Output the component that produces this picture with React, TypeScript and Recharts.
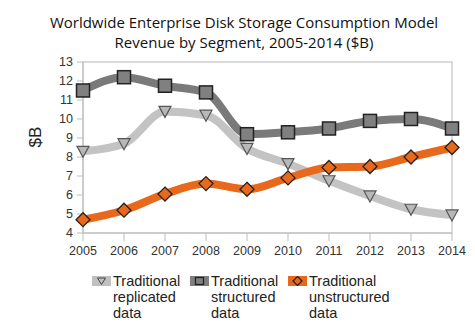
import { LineChart, Line, XAxis, YAxis, ReferenceArea, Label } from 'recharts';

const years = ['2005', '2006', '2007', '2008', '2009', '2010', '2011', '2012', '2013', '2014'];
const replicated = [8.3, 8.7, 10.4, 10.2, 8.45, 7.65, 6.75, 5.95, 5.25, 4.95];
const structured = [11.5, 12.2, 11.75, 11.4, 9.2, 9.3, 9.5, 9.9, 10.0, 9.5];
const unstructured = [4.7, 5.2, 6.05, 6.6, 6.3, 6.9, 7.45, 7.5, 8.0, 8.5];
const yTicks = [4, 5, 6, 7, 8, 9, 10, 11, 12, 13];

const legendItems = [
  { lines: ['Traditional', 'replicated', 'data'], color: '#c0c0c0', marker: 'triangle' },
  { lines: ['Traditional', 'structured', 'data'], color: '#7f7f7f', marker: 'square' },
  { lines: ['Traditional', 'unstructured', 'data'], color: '#e8691c', marker: 'diamond' },
];

const data = years.map((year, i) => ({
  year,
  replicated: replicated[i],
  structured: structured[i],
  unstructured: unstructured[i],
}));

const font = '"Liberation Sans", Arial, sans-serif';

function TriangleDot(props: any) {
  const { cx, cy } = props;
  if (cx == null || cy == null) return null;
  return (
    <polygon
      points={`${cx - 6},${cy - 5} ${cx + 6},${cy - 5} ${cx},${cy + 6}`}
      fill="#b8b8b8"
      stroke="#555"
      strokeWidth={1.2}
    />
  );
}

function SquareDot(props: any) {
  const { cx, cy } = props;
  if (cx == null || cy == null) return null;
  return <rect x={cx - 6.5} y={cy - 6.5} width={13} height={13} fill="#808080" stroke="#222" strokeWidth={1.5} />;
}

function DiamondDot(props: any) {
  const { cx, cy } = props;
  if (cx == null || cy == null) return null;
  return (
    <polygon
      points={`${cx},${cy - 7} ${cx + 7},${cy} ${cx},${cy + 7} ${cx - 7},${cy}`}
      fill="#e8691c"
      stroke="#222"
      strokeWidth={1.3}
    />
  );
}

function Swatch({ color, marker }: { color: string; marker: string }) {
  return (
    <svg width={19} height={10} style={{ display: 'block' }}>
      <rect x={0} y={0} width={19} height={10} fill={color} />
      {marker === 'triangle' && <polygon points="5.5,2 13.5,2 9.5,8.5" fill="none" stroke="#444" strokeWidth={1} />}
      {marker === 'square' && <rect x={5.5} y={1.5} width={8} height={7} fill="#808080" stroke="#222" strokeWidth={1.3} />}
      {marker === 'diamond' && <polygon points="9.5,0.5 14,5 9.5,9.5 5,5" fill="none" stroke="#222" strokeWidth={1.2} />}
    </svg>
  );
}

export default function App() {
  return (
    <div style={{ position: 'absolute', left: 0, top: 0, width: 475, height: 326, background: '#fff' }}>
      <div
        style={{
          position: 'absolute',
          top: 12,
          left: 0,
          width: 475,
          paddingLeft: 13,
          boxSizing: 'border-box',
          textAlign: 'center',
          fontFamily: '"Open Sans", sans-serif',
          fontSize: 15,
          lineHeight: '20px',
          color: '#111',
        }}
      >
        Worldwide Enterprise Disk Storage Consumption Model
        <br />
        Revenue by Segment, 2005-2014 ($B)
      </div>
      <LineChart width={475} height={326} data={data} margin={{ top: 62, right: 23, left: 45, bottom: 63 }}>
        <ReferenceArea x1="2005" x2="2014" y1={4} y2={13} fill="none" stroke="#d0d0d0" strokeWidth={1.5} ifOverflow="visible" />
        <XAxis
          dataKey="year"
          height={30}
          stroke="#bdbdbd"
          tickSize={8}
          tickMargin={5}
          tick={{ fill: '#333', fontSize: 12.5, fontFamily: font }}
          interval={0}
        />
        <YAxis
          width={38}
          domain={[4, 13]}
          ticks={yTicks}
          stroke="#bdbdbd"
          tickSize={6}
          tickMargin={4}
          tick={{ fill: '#333', fontSize: 12.5, fontFamily: font }}
          interval={0}
        >
          <Label value="$B" angle={-90} position="insideLeft" offset={-10} style={{ fill: '#222', fontSize: 17, fontFamily: font }} />
        </YAxis>
        <Line type="monotone" dataKey="replicated" stroke="#c3c3c3" strokeWidth={8} dot={<TriangleDot />} activeDot={false} isAnimationActive={false} />
        <Line type="monotone" dataKey="structured" stroke="#7a7a7a" strokeWidth={8} dot={<SquareDot />} activeDot={false} isAnimationActive={false} />
        <Line type="monotone" dataKey="unstructured" stroke="#e8691c" strokeWidth={8} dot={<DiamondDot />} activeDot={false} isAnimationActive={false} />
      </LineChart>
      {legendItems.map((item, i) => (
        <div
          key={item.lines[1]}
          style={{
            position: 'absolute',
            left: [92, 190, 288][i],
            top: 273,
            display: 'flex',
            alignItems: 'flex-start',
            fontFamily: font,
            fontSize: 14.5,
            lineHeight: '16px',
            color: '#222',
          }}
        >
          <div style={{ marginTop: 3, marginRight: 2 }}>
            <Swatch color={item.color} marker={item.marker} />
          </div>
          <div>
            {item.lines.map((l) => (
              <div key={l}>{l}</div>
            ))}
          </div>
        </div>
      ))}
    </div>
  );
}
